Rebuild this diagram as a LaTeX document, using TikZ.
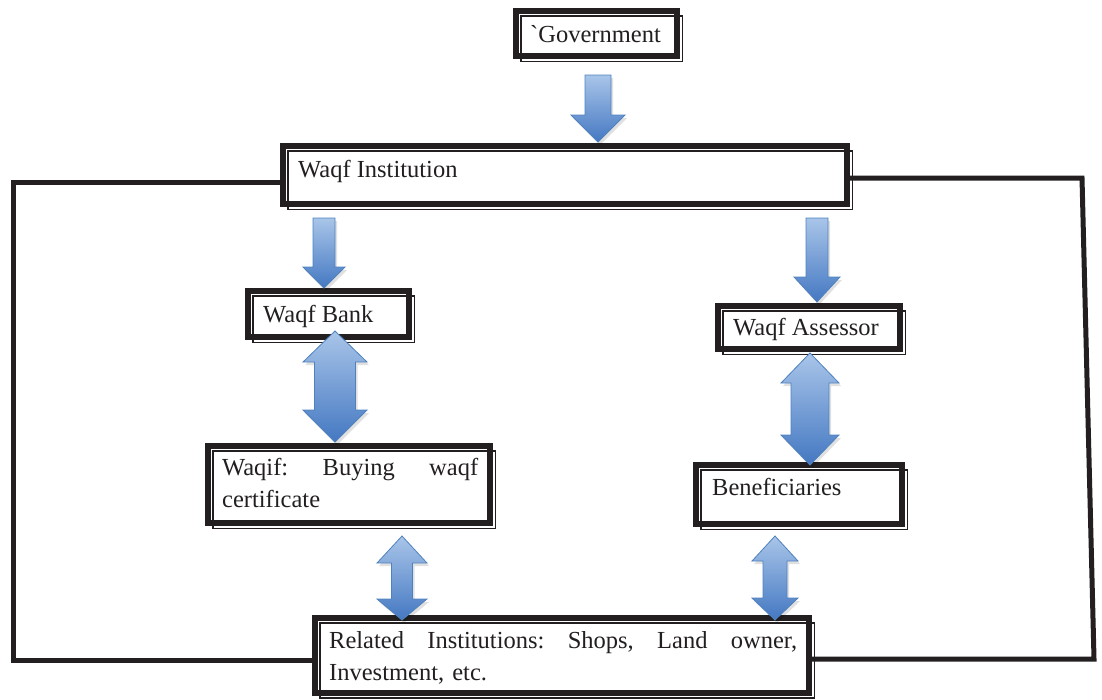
\documentclass[tikz,border=0pt]{standalone}
\usepackage{fontspec}
\setmainfont{Liberation Serif}
\usetikzlibrary{calc}
\definecolor{ink}{HTML}{231F20}
\definecolor{atop}{HTML}{A9C5E9}
\definecolor{abot}{HTML}{4478C2}
\definecolor{aedge}{HTML}{4F81BD}
\tikzset{
 wbox/.style={draw=ink, line width=6pt, fill=white, rectangle, inner sep=0pt, outer sep=0pt, anchor=north west},
 wthin/.style={draw=ink, line width=1.2pt},
 wtext/.style={inner sep=0pt, anchor=base west, text=ink, font=\fontsize{24.5}{32.5}\selectfont},
 loopline/.style={draw=ink, line width=5pt, line join=miter},
 blk/.style={draw=aedge, line width=0.8pt, top color=atop, bottom color=abot, line join=miter},
 blkshadow/.style={fill=black, opacity=0.12, draw=none},
}
\newcommand\blkdnpath[6]{(#1-#2,#3) -- (#1+#2,#3) -- (#1+#2,#4) -- (#1+#5,#4) -- (#1,#6) -- (#1-#5,#4) -- (#1-#2,#4) -- cycle}
\newcommand\blkdn[6]{% cx, half shaft, top, head base, half head, tip
 \path[blkshadow, shift={(2,3)}] \blkdnpath{#1}{#2}{#3}{#4}{#5}{#6};
 \path[blk] \blkdnpath{#1}{#2}{#3}{#4}{#5}{#6};}
\newcommand\blkdblpath[7]{(#1,#3) -- (#1+#7,#4) -- (#1+#2,#4) -- (#1+#2,#5) -- (#1+#7,#5) -- (#1,#6) -- (#1-#7,#5) -- (#1-#2,#5) -- (#1-#2,#4) -- (#1-#7,#4) -- cycle}
\newcommand\blkdbl[7]{% cx, half shaft, top tip, upper base, lower base, bottom tip, half head
 \path[blkshadow, shift={(2,3)}] \blkdblpath{#1}{#2}{#3}{#4}{#5}{#6}{#7};
 \path[blk] \blkdblpath{#1}{#2}{#3}{#4}{#5}{#6}{#7};}
\begin{document}
\begin{tikzpicture}[x=1pt,y=-1pt]
\useasboundingbox (0,0) rectangle (1102,699);
% boxes
\node[wbox, minimum width=161.4pt, minimum height=45.4pt] (gov) at (516,11) {};
\node[wbox, minimum width=564.4pt, minimum height=58.4pt] (inst) at (283,146) {};
\node[wbox, minimum width=161.4pt, minimum height=46.4pt] (bank) at (248,291) {};
\node[wbox, minimum width=182.4pt, minimum height=43.4pt] (ass) at (718,306) {};
\node[wbox, minimum width=282.4pt, minimum height=77.4pt] (waqif) at (208,446) {};
\node[wbox, minimum width=206.4pt, minimum height=59.4pt] (ben) at (696,465) {};
\node[wbox, minimum width=494.4pt, minimum height=75pt] (rel) at (315,618) {};
\foreach \n in {gov,inst,bank,ass,waqif,ben,rel}
  \draw[wthin] ([shift={(5,5)}]\n.north west) rectangle ([shift={(5,5)}]\n.south east);
% loop lines
\coordinate (lt) at (13,182);
\coordinate (lb) at (13,660);
\coordinate (rt) at (1082,178);
\coordinate (rb) at (1094,659);
\draw[loopline] (inst.west |- lt) -- (lt) -- (lb) -- (rel.west |- lb);
\draw[loopline] (inst.east |- rt) -- (rt) -- (rb) -- (rel.east |- rb);
% texts
\node[wtext] (tgov) at (530,42) {\textasciigrave Government};
\node[wtext] (tinst) at (298,177) {Waqf Institution};
\node[wtext] (tbank) at (263,322) {Waqf Bank};
\node[wtext] (tass) at (733,335) {Waqf Assessor};
\node[wtext, text width=256pt, align=left] (twaqif) at (222,475) {\hbox to 256pt{Waqif:\hfill Buying\hfill waqf}\\certificate};
\node[wtext] (tben) at (712,495) {Beneficiaries};
\node[wtext, text width=468pt, align=left] (trel) at (329,648) {\hbox to 468pt{Related\hfill Institutions:\hfill Shops,\hfill Land\hfill owner,}\\Investment, etc.};
% block arrows
\blkdn{598}{13}{75}{115}{27}{142}
\blkdn{324}{11}{218}{267}{21}{288}
\blkdn{817}{11}{218}{277}{23}{302}
\blkdbl{335}{20.5}{331}{362}{410}{442}{32}
\blkdbl{810}{19}{353}{383}{435}{465}{29}
\blkdbl{402}{10.5}{536}{563}{599}{620}{25}
\blkdbl{775}{12}{536}{561}{598}{620}{23}
\end{tikzpicture}
\end{document}
